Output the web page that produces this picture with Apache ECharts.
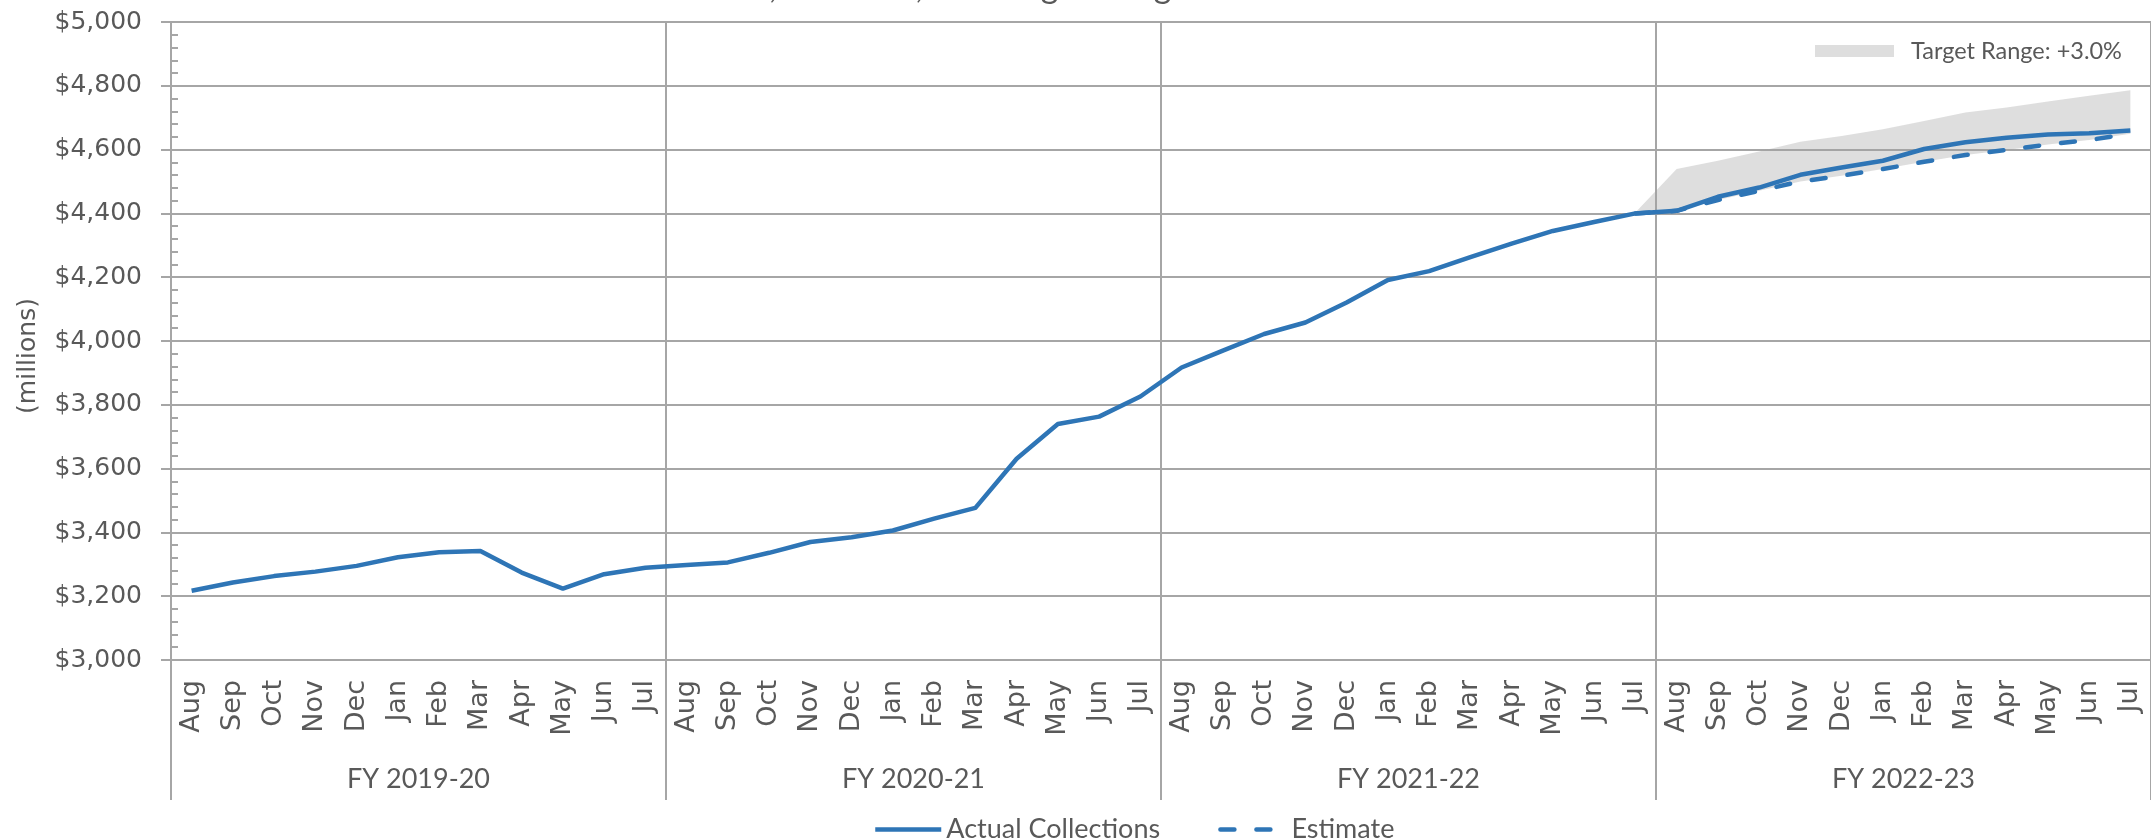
<!DOCTYPE html>
<html><head><meta charset="utf-8">
<script src="https://cdn.jsdelivr.net/npm/echarts@6/dist/echarts.min.js"></script>
<style>html,body{margin:0;padding:0;background:#fff}#c{width:2151px;height:839px}</style>
</head><body><div id="c"></div>
<script>
// ---- data ----
const monthLabels = ['Aug','Sep','Oct','Nov','Dec','Jan','Feb','Mar','Apr','May','Jun','Jul'];
const fiscalYears = ['FY 2019-20','FY 2020-21','FY 2021-22','FY 2022-23'];
const actualCollections = [
  3217,3243,3263,3277,3295,3322,3338,3342,3274,3224,3269,3289,
  3298,3306,3336,3370,3385,3406,3443,3477,3631,3740,3763,3826,
  3917,3970,4022,4058,4121,4191,4219,4263,4305,4345,4373,4400,
  4408,4452,4481,4521,4544,4565,4602,4623,4637,4647,4651,4660
];
// Estimate and target range cover FY 2021-22 Jul through FY 2022-23 Jul
const estimateStart = 35;
const estimate = [4400,4408,4442,4471,4500,4518,4539,4562,4583,4599,4616,4630,4650];
const targetUpper = [4403,4539,4565,4594,4625,4643,4664,4690,4716,4732,4751,4769,4786];
const yMin = 3000, yMax = 5000, yStep = 200;
const titleText = 'Actual Collections, Estimate, and Target Range';

// ---- build tables ----
const categories = [];
fiscalYears.forEach(() => monthLabels.forEach(m => categories.push(m)));
const pad = arr => categories.map((_, i) => (i >= estimateStart && i - estimateStart < arr.length) ? arr[i - estimateStart] : null);
const estPadded = pad(estimate);
const bandDiff = pad(targetUpper.map((u, i) => u - estimate[i]));

const grey = '#a6a6a6', txt = '#595959', blue = '#2e75b6';
const bandColor = 'rgba(160,160,160,0.35)';

const chart = echarts.init(document.getElementById('c'), null, {renderer: 'canvas'});
chart.setOption({
  animation: false,
  backgroundColor: '#fff',
  grid: [
    {left: 171, right: 0, top: 22, bottom: 179},
    {left: 171, right: 0, top: 22, bottom: 179}
  ],
  graphic: [
    {type: 'text', x: 500, y: 4, silent: true,
     style: {text: titleText, fill: txt, font: '34px Lato', verticalAlign: 'bottom', align: 'left'}},
    {type: 'text', x: 28, y: 356, rotation: Math.PI / 2, silent: true,
     style: {text: '(millions)', fill: txt, font: '25px "DejaVu Sans"', align: 'center', verticalAlign: 'middle'}}
  ],
  legend: [
    {data: ['Actual Collections', 'Estimate'], left: 868, top: 811, itemWidth: 66, itemHeight: 5, itemGap: 58,
     selectedMode: false, itemStyle: {color: 'rgba(0,0,0,0)', borderWidth: 0},
     lineStyle: {width: 4.5},
     textStyle: {fontFamily: 'Lato', fontSize: 27, color: txt}},
    {data: [{name: 'Target Range: +3.0%', icon: 'rect'}], left: 1810, top: 34, itemWidth: 79, itemHeight: 12,
     selectedMode: false, textStyle: {fontFamily: 'Lato', fontSize: 23.5, color: txt, padding: [0, 0, 0, 12]}}
  ],
  xAxis: [
    {type: 'category', gridIndex: 0, data: categories, boundaryGap: true,
     axisLine: {show: true, lineStyle: {color: grey, width: 2}},
     axisTick: {show: false},
     axisLabel: {interval: 0, rotate: 90, margin: 20, fontFamily: 'DejaVu Sans', fontSize: 27, color: txt},
     splitLine: {show: false}},
    {type: 'category', gridIndex: 1, data: fiscalYears, position: 'bottom', boundaryGap: true,
     axisLine: {show: false},
     axisTick: {show: true, length: 140, interval: 0, lineStyle: {color: grey, width: 2}},
     axisLabel: {interval: 0, margin: 106, fontFamily: 'Lato', fontSize: 27, color: txt},
     splitLine: {show: true, interval: 0, lineStyle: {color: grey, width: 2}}}
  ],
  yAxis: [
    {type: 'value', gridIndex: 0, min: yMin, max: yMax, interval: yStep,
     axisLine: {show: true, lineStyle: {color: grey, width: 2}},
     axisTick: {show: true, length: 10, lineStyle: {color: grey, width: 2}},
     axisLabel: {margin: 29, fontFamily: 'DejaVu Sans', fontSize: 25, color: txt,
       formatter: v => '$' + v.toLocaleString('en-US')},
     splitLine: {show: true, lineStyle: {color: grey, width: 2}}},
    {type: 'value', gridIndex: 1, min: yMin, max: yMax, interval: yStep,
     axisLine: {show: false}, axisTick: {show: false, inside: true}, axisLabel: {show: false},
     splitLine: {show: false},
     minorTick: {show: true, splitNumber: 5, length: 7, lineStyle: {color: grey, width: 2}}}
  ],
  series: [
    {name: 'bandBase', type: 'line', data: estPadded, stack: 'band', symbol: 'none', silent: true,
     lineStyle: {opacity: 0, width: 0}},
    {name: 'Target Range: +3.0%', type: 'line', data: bandDiff, stack: 'band', symbol: 'none', silent: true,
     lineStyle: {opacity: 0, width: 0}, itemStyle: {color: bandColor},
     areaStyle: {color: bandColor, opacity: 1}},
    {name: 'Estimate', type: 'line', data: estPadded, symbol: 'none', z: 3,
     itemStyle: {color: blue},
     lineStyle: {color: blue, width: 4.5, type: [14, 22], cap: 'round'}},
    {name: 'Actual Collections', type: 'line', data: actualCollections, symbol: 'none', z: 4,
     itemStyle: {color: blue},
     lineStyle: {color: blue, width: 4.5, join: 'round'}}
  ]
});
</script></body></html>
